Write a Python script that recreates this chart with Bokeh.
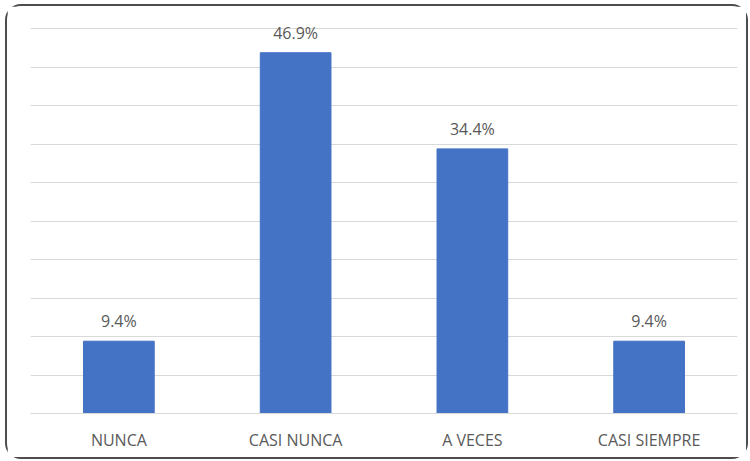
from bokeh.plotting import figure
from bokeh.models import ColumnDataSource, LabelSet, Range1d, FixedTicker
from bokeh.core.properties import value
from bokeh.embed import file_html
from bokeh.resources import INLINE

categories = ["NUNCA", "CASI NUNCA", "A VECES", "CASI SIEMPRE"]
values = [9.4, 46.9, 34.4, 9.4]
value_labels = ["9.4%", "46.9%", "34.4%", "9.4%"]
grid_ticks = [0, 5, 10, 15, 20, 25, 30, 35, 40, 45, 50]

src = ColumnDataSource(dict(cat=categories, val=values, lab=value_labels))

p = figure(x_range=categories, y_range=Range1d(0, 52), width=743, height=455,
           output_backend="svg", toolbar_location=None,
           min_border_left=23, min_border_right=13, min_border_top=7, min_border_bottom=48)
p.styles = {"border": "2px solid #4d4d4d", "border-radius": "16px",
            "margin-left": "5px", "margin-top": "4px"}
p.outline_line_color = None
p.background_fill_color = "white"
p.border_fill_color = "white"

p.vbar(x="cat", top="val", width=0.4, source=src, color="#4472C4")

p.yaxis.visible = False
p.ygrid.ticker = FixedTicker(ticks=grid_ticks)
p.ygrid.grid_line_color = "#D9D9D9"
p.ygrid.grid_line_width = 1
p.xgrid.grid_line_color = None

p.xaxis.axis_line_color = "#D9D9D9"
p.xaxis.major_tick_line_color = None
p.xaxis.minor_tick_line_color = None
p.xaxis.major_label_text_color = "#595959"
p.xaxis.major_label_text_font = "Open Sans"
p.xaxis.major_label_text_font_size = "16px"
p.xaxis.major_label_standoff = 9

labels = LabelSet(x="cat", y="val", text="lab", source=src, text_align="center",
                  text_baseline="bottom", y_offset=9, text_color="#595959",
                  text_font=value("Open Sans"), text_font_size="16px")
p.add_layout(labels)

open("out.html", "w").write(file_html(p, INLINE))
